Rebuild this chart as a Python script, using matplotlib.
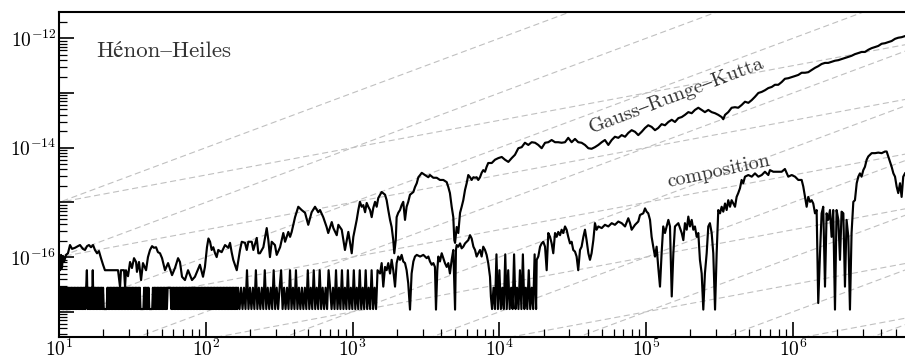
import numpy as np
import matplotlib
matplotlib.use("Agg")
import matplotlib.pyplot as plt
from matplotlib.ticker import FixedLocator, FuncFormatter, LogLocator, NullFormatter

plt.rcParams['mathtext.fontset'] = 'cm'
plt.rcParams['path.simplify'] = False
TEXT_FONT = ['cmr10', 'STIXGeneral', 'DejaVu Serif']
TEXT_COLOR = '#333333'

# ---------------------------------------------------------------------------
# Energy error of the Henon-Heiles integration, stored as log10 values
# ---------------------------------------------------------------------------

# Gauss-Runge-Kutta: log10(t), log10(error)
grk_logt = [
    1.000, 1.007, 1.014, 1.020, 1.027, 1.034, 1.048, 1.061, 1.075, 1.089,
    1.109, 1.129, 1.143, 1.163, 1.177, 1.191, 1.204, 1.218, 1.232, 1.245,
    1.259, 1.272, 1.286, 1.300, 1.313, 1.347, 1.375, 1.402, 1.416, 1.422,
    1.443, 1.450, 1.456, 1.470, 1.484, 1.497, 1.511, 1.525, 1.531, 1.545,
    1.559, 1.572, 1.593, 1.606, 1.620, 1.634, 1.647, 1.661, 1.674, 1.688,
    1.702, 1.722, 1.743, 1.770, 1.790, 1.811, 1.824, 1.838, 1.858, 1.879,
    1.906, 1.926, 1.960, 1.981, 1.994, 2.008, 2.018, 2.029, 2.040, 2.051,
    2.063, 2.074, 2.085, 2.108, 2.131, 2.153, 2.165, 2.176, 2.187, 2.211,
    2.233, 2.245, 2.267, 2.279, 2.290, 2.313, 2.324, 2.347, 2.358, 2.369,
    2.392, 2.415, 2.426, 2.437, 2.449, 2.471, 2.483, 2.506, 2.528, 2.540,
    2.562, 2.574, 2.585, 2.608, 2.630, 2.653, 2.676, 2.698, 2.721, 2.744,
    2.766, 2.778, 2.800, 2.823, 2.834, 2.858, 2.869, 2.892, 2.903, 2.926,
    2.948, 2.971, 2.994, 3.005, 3.028, 3.039, 3.050, 3.062, 3.073, 3.085,
    3.096, 3.107, 3.119, 3.130, 3.141, 3.153, 3.164, 3.175, 3.198, 3.221,
    3.232, 3.243, 3.255, 3.266, 3.277, 3.284, 3.294, 3.300, 3.311, 3.323,
    3.334, 3.345, 3.357, 3.368, 3.379, 3.391, 3.414, 3.425, 3.437, 3.448,
    3.460, 3.471, 3.493, 3.516, 3.527, 3.550, 3.573, 3.595, 3.618, 3.641,
    3.652, 3.663, 3.675, 3.686, 3.693, 3.698, 3.709, 3.720, 3.732, 3.743,
    3.754, 3.766, 3.777, 3.788, 3.800, 3.811, 3.823, 3.834, 3.845, 3.856,
    3.868, 3.879, 3.890, 3.902, 3.913, 3.924, 3.948, 3.970, 3.993, 4.016,
    4.038, 4.061, 4.084, 4.106, 4.129, 4.152, 4.174, 4.197, 4.220, 4.243,
    4.265, 4.288, 4.311, 4.333, 4.356, 4.379, 4.401, 4.424, 4.447, 4.469,
    4.492, 4.515, 4.537, 4.560, 4.583, 4.606, 4.628, 4.651, 4.674, 4.697,
    4.719, 4.742, 4.765, 4.787, 4.810, 4.833, 4.856, 4.878, 4.901, 4.924,
    4.946, 4.969, 4.992, 5.014, 5.037, 5.060, 5.082, 5.105, 5.128, 5.151,
    5.174, 5.196, 5.219, 5.242, 5.264, 5.287, 5.310, 5.332, 5.355, 5.378,
    5.400, 5.423, 5.446, 5.469, 5.491, 5.514, 5.525, 5.537, 5.559, 5.582,
    5.605, 5.627, 5.650, 5.673, 5.696, 5.719, 5.741, 5.764, 5.787, 5.809,
    5.832, 5.855, 5.877, 5.900, 5.923, 5.945, 5.968, 5.991, 6.014, 6.036,
    6.059, 6.082, 6.104, 6.127, 6.150, 6.172, 6.195, 6.218, 6.240, 6.263,
    6.286, 6.309, 6.331, 6.354, 6.377, 6.399, 6.422, 6.445, 6.467, 6.490,
    6.513, 6.536, 6.559, 6.581, 6.604, 6.627, 6.649, 6.672, 6.695, 6.717,
    6.740, 6.763,
]
grk_logerr = [
    -16.02, -16.24, -15.96, -16.20, -15.98, -16.09, -15.96, -15.93, -15.78, -15.85,
    -15.83, -15.80, -15.78, -15.85, -15.87, -15.80, -15.78, -15.82, -15.78, -15.87,
    -15.93, -15.89, -16.02, -16.14, -16.24, -16.24, -16.24, -16.24, -16.55, -16.24,
    -16.24, -16.55, -16.24, -16.35, -16.09, -16.20, -16.02, -16.09, -16.27, -16.09,
    -16.42, -16.11, -16.24, -16.00, -15.87, -15.80, -15.83, -15.82, -15.91, -15.93,
    -16.02, -16.24, -16.11, -16.33, -16.20, -16.02, -16.09, -16.36, -16.42, -16.24,
    -16.42, -16.36, -16.14, -16.36, -16.18, -15.82, -15.66, -15.72, -15.87, -15.82,
    -15.93, -16.00, -15.87, -15.91, -15.78, -15.83, -15.74, -15.91, -16.05, -16.24,
    -15.87, -15.72, -15.74, -15.87, -15.72, -15.72, -15.87, -15.65, -15.93, -15.93,
    -15.82, -15.47, -15.69, -16.00, -15.72, -15.78, -15.96, -15.82, -15.56, -15.72,
    -15.54, -15.63, -15.54, -15.27, -15.08, -15.14, -15.19, -15.41, -15.18, -15.08,
    -15.18, -15.14, -15.27, -15.45, -15.56, -15.36, -15.47, -15.60, -15.41, -15.50,
    -15.87, -15.54, -15.93, -15.63, -15.32, -15.14, -14.99, -15.08, -15.05, -15.18,
    -15.01, -15.08, -15.14, -15.27, -15.10, -14.99, -15.08, -14.92, -14.81, -14.86,
    -14.96, -15.14, -15.32, -15.45, -15.69, -15.93, -15.69, -15.27, -15.19, -15.14,
    -15.05, -14.99, -15.32, -15.08, -14.99, -14.86, -14.81, -14.72, -14.65, -14.54,
    -14.50, -14.46, -14.50, -14.54, -14.50, -14.55, -14.55, -14.59, -14.59, -14.63,
    -14.72, -14.83, -15.08, -15.27, -15.69, -15.74, -15.45, -15.56, -15.19, -15.08,
    -14.96, -14.77, -14.65, -14.50, -14.54, -14.59, -14.54, -14.55, -14.54, -14.59,
    -14.54, -14.46, -14.41, -14.44, -14.35, -14.28, -14.28, -14.22, -14.19, -14.17,
    -14.22, -14.26, -14.19, -14.13, -14.01, -13.99, -13.91, -13.95, -13.90, -13.91,
    -13.95, -14.01, -13.91, -13.90, -13.86, -13.90, -13.90, -13.91, -13.90, -13.82,
    -13.90, -13.84, -13.90, -13.91, -13.95, -14.01, -14.02, -13.99, -13.95, -13.90,
    -13.86, -13.95, -13.86, -13.80, -13.82, -13.77, -13.80, -13.73, -13.68, -13.71,
    -13.77, -13.71, -13.64, -13.59, -13.62, -13.68, -13.64, -13.57, -13.59, -13.53,
    -13.49, -13.53, -13.46, -13.44, -13.40, -13.35, -13.37, -13.31, -13.27, -13.31,
    -13.35, -13.31, -13.35, -13.37, -13.40, -13.44, -13.48, -13.40, -13.35, -13.27,
    -13.26, -13.27, -13.22, -13.16, -13.18, -13.13, -13.07, -13.00, -12.98, -12.95,
    -12.91, -12.89, -12.85, -12.85, -12.80, -12.74, -12.73, -12.71, -12.69, -12.67,
    -12.63, -12.63, -12.62, -12.58, -12.54, -12.51, -12.47, -12.45, -12.45, -12.43,
    -12.41, -12.40, -12.38, -12.36, -12.34, -12.32, -12.29, -12.27, -12.25, -12.25,
    -12.21, -12.18, -12.16, -12.14, -12.10, -12.09, -12.07, -12.05, -12.01, -11.99,
    -11.98, -11.96,
]

# Composition method.  While the error sits at round-off level it jumps
# between a few discrete values; those stretches are stored as level codes
# (index into roundoff_levels), one code per output time.
roundoff_levels = [-16.95, -16.56, -16.24, -15.95]

comp_band_a_span = (1.00, 2.22)
comp_band_a = ("0101010101" "0101010101" "0101010101" "0101010120"
               "1010102010" "1010101010" "1000001010" "1010101010"
               "1010101010" "1010101010" "1010101010" "1000001010"
               "1010000010" "1010101010" "1010101011" "1110101010"
               "1010101010" "1010101010" "1010101010" "1010101010"
               "1010101010" "1010101010" "1010101010" "1010101010"
               "10101")
comp_band_b_span = (2.23, 3.17)
comp_band_b = ("0101020101" "0201010201" "0102010120" "1010201020"
               "1010102010" "2010201010" "2101020102" "0102010201"
               "0201020102" "0102")

comp_mid_logt = [
    3.187, 3.198, 3.209, 3.221, 3.232, 3.243, 3.255, 3.266, 3.277, 3.289,
    3.300, 3.311, 3.323, 3.334, 3.345, 3.357, 3.368, 3.379, 3.391, 3.402,
    3.414, 3.425, 3.437, 3.460, 3.482, 3.505, 3.516, 3.527, 3.539, 3.550,
    3.561, 3.568, 3.577, 3.584, 3.595, 3.607, 3.618, 3.629, 3.641, 3.652,
    3.663, 3.675, 3.686, 3.698, 3.704, 3.709, 3.720, 3.732, 3.743, 3.754,
    3.766, 3.788, 3.800, 3.811, 3.823, 3.834, 3.845, 3.856, 3.868, 3.879,
    3.890, 3.902, 3.913, 3.924, 3.936, 3.942,
]
comp_mid_logerr = [
    -16.30, -16.11, -16.54, -16.18, -16.24, -16.11, -16.30, -16.05, -16.24, -16.54,
    -16.11, -15.99, -16.05, -15.96, -16.08, -16.11, -16.24, -16.48, -16.96, -16.30,
    -16.08, -15.99, -15.96, -15.99, -15.96, -16.02, -15.99, -16.08, -16.14, -16.11,
    -16.18, -16.96, -16.24, -15.99, -16.08, -15.93, -16.02, -16.11, -16.18, -16.11,
    -16.30, -16.05, -15.87, -16.96, -15.87, -15.78, -15.81, -15.75, -15.84, -15.81,
    -15.75, -15.69, -15.60, -15.66, -15.81, -15.87, -15.99, -15.93, -15.87, -15.99,
    -15.81, -15.87, -15.96, -16.11, -16.36, -16.72,
]

comp_band_c_span = (3.95, 4.25)
comp_band_c = "0103020103" "0201030102" "0301020103" "0"

comp_late_logt = [
    4.254, 4.265, 4.277, 4.288, 4.299, 4.311, 4.322, 4.333, 4.345, 4.356,
    4.367, 4.379, 4.390, 4.401, 4.413, 4.424, 4.435, 4.447, 4.458, 4.469,
    4.481, 4.492, 4.503, 4.515, 4.526, 4.537, 4.549, 4.560, 4.572, 4.583,
    4.594, 4.606, 4.617, 4.628, 4.640, 4.651, 4.662, 4.674, 4.697, 4.719,
    4.742, 4.765, 4.787, 4.810, 4.833, 4.856, 4.878, 4.890, 4.901, 4.924,
    4.946, 4.958, 4.980, 4.992, 5.003, 5.014, 5.026, 5.037, 5.048, 5.060,
    5.071, 5.082, 5.094, 5.105, 5.116, 5.128, 5.151, 5.162, 5.174, 5.185,
    5.196, 5.219, 5.242, 5.253, 5.264, 5.276, 5.287, 5.298, 5.310, 5.321,
    5.332, 5.344, 5.355, 5.366, 5.378, 5.389, 5.400, 5.412, 5.423, 5.434,
    5.446, 5.457, 5.469, 5.480, 5.491, 5.503, 5.514, 5.525, 5.537, 5.548,
    5.559, 5.571, 5.582, 5.605, 5.616, 5.627, 5.639, 5.650, 5.661, 5.673,
    5.696, 5.719, 5.741, 5.764, 5.787, 5.809, 5.832, 5.843, 5.866, 5.877,
    5.900, 5.923, 5.945, 5.968, 5.991, 6.014, 6.036, 6.059, 6.070, 6.082,
    6.093, 6.104, 6.116, 6.127, 6.138, 6.150, 6.161, 6.172, 6.184, 6.195,
    6.206, 6.218, 6.229, 6.240, 6.252, 6.263, 6.274, 6.286, 6.297, 6.309,
    6.320, 6.331, 6.343, 6.354, 6.365, 6.377, 6.388, 6.399, 6.411, 6.422,
    6.434, 6.445, 6.456, 6.467, 6.479, 6.490, 6.502, 6.513, 6.536, 6.559,
    6.581, 6.604, 6.627, 6.638, 6.649, 6.672, 6.684, 6.695, 6.706, 6.717,
    6.729, 6.740, 6.751, 6.763,
]
comp_late_logerr = [
    -16.05, -15.99, -15.81, -15.75, -15.72, -15.81, -16.24, -15.56, -15.63, -15.75,
    -15.93, -15.56, -15.63, -15.54, -15.60, -15.50, -15.56, -15.44, -15.50, -15.63,
    -15.75, -15.72, -15.87, -15.90, -15.99, -16.24, -15.87, -15.81, -15.63, -15.50,
    -15.69, -15.93, -16.05, -15.93, -15.69, -15.38, -15.50, -15.44, -15.47, -15.41,
    -15.44, -15.38, -15.41, -15.35, -15.38, -15.44, -15.29, -15.38, -15.50, -15.41,
    -15.35, -15.23, -15.20, -15.11, -15.17, -15.20, -15.32, -15.63, -15.81, -15.99,
    -15.81, -16.18, -16.54, -15.93, -15.44, -15.56, -15.32, -15.44, -16.72, -15.93,
    -15.44, -15.38, -15.56, -15.69, -15.38, -15.50, -15.26, -15.44, -15.32, -15.50,
    -15.44, -15.63, -15.56, -16.05, -16.30, -16.96, -16.30, -15.93, -15.44, -15.38,
    -15.56, -15.93, -16.96, -15.93, -15.14, -15.20, -15.08, -15.17, -15.02, -15.14,
    -14.96, -15.08, -14.96, -15.08, -14.90, -14.83, -14.74, -14.59, -14.65, -14.53,
    -14.50, -14.53, -14.47, -14.53, -14.50, -14.44, -14.50, -14.41, -14.44, -14.44,
    -14.44, -14.44, -14.39, -14.53, -14.50, -14.53, -14.59, -14.59, -14.71, -14.90,
    -15.08, -14.90, -14.99, -14.96, -15.02, -15.20, -15.14, -16.84, -15.93, -15.20,
    -15.08, -16.54, -15.20, -15.32, -15.14, -15.63, -15.14, -16.96, -15.14, -15.32,
    -16.05, -15.17, -15.20, -16.54, -15.32, -15.63, -16.96, -15.56, -14.99, -14.96,
    -14.65, -14.53, -14.47, -14.53, -14.41, -14.35, -14.22, -14.16, -14.10, -14.10,
    -14.09, -14.10, -14.07, -14.07, -14.16, -14.35, -14.47, -14.53, -14.71, -14.83,
    -14.65, -14.90, -14.53, -14.47,
]

# Guide lines err = C t and err = C sqrt(t), given by log10(C)
linear_guide_logc = [-16, -17, -18, -19, -20, -21, -22, -23, -24]
sqrt_guide_logc = [-15.5, -16.5, -17.5, -18.5, -19.5, -20.5]

x_tick_exponents = [1, 2, 3, 4, 5, 6]
y_tick_exponents = [-17, -16, -15, -14, -13, -12]
y_labelled_exponents = [-16, -14, -12]

x_limits_log = (1.0, 6.763)
y_limits_log = (-17.461, -11.525)


def roundoff(codes):
    return [roundoff_levels[int(c)] for c in codes]


comp_logt = np.concatenate([
    np.linspace(*comp_band_a_span, len(comp_band_a)),
    np.linspace(*comp_band_b_span, len(comp_band_b)),
    comp_mid_logt,
    np.linspace(*comp_band_c_span, len(comp_band_c)),
    comp_late_logt,
])
comp_logerr = np.concatenate([
    roundoff(comp_band_a),
    roundoff(comp_band_b),
    comp_mid_logerr,
    roundoff(comp_band_c),
    comp_late_logerr,
])

assert len(grk_logt) == len(grk_logerr)
assert len(comp_logt) == len(comp_logerr)

# ---------------------------------------------------------------------------
fig = plt.figure(figsize=(9.05, 3.61), dpi=100)
ax = fig.add_axes([59 / 905, 24 / 361, 846 / 905, 324.7 / 361])
ax.set_xscale('log')
ax.set_yscale('log')

t_guide = 10.0 ** np.array([0.5, 7.5])
guide_style = dict(color='#c0c0c0', lw=0.8, dashes=(5.5, 3.2), zorder=1)
for c in linear_guide_logc:
    ax.plot(t_guide, 10.0 ** c * t_guide, **guide_style)
for c in sqrt_guide_logc:
    ax.plot(t_guide, 10.0 ** c * np.sqrt(t_guide), **guide_style)

line_style = dict(color='black', lw=1.55, solid_joinstyle='round', zorder=3)
ax.plot(10.0 ** np.asarray(grk_logt), 10.0 ** np.asarray(grk_logerr), **line_style)
ax.plot(10.0 ** comp_logt, 10.0 ** comp_logerr, **line_style)

ax.set_xlim(10.0 ** x_limits_log[0], 10.0 ** x_limits_log[1])
ax.set_ylim(10.0 ** y_limits_log[0], 10.0 ** y_limits_log[1])

# Ticks: inward, bottom and left only
ax.xaxis.set_major_locator(FixedLocator([10.0 ** e for e in x_tick_exponents]))
ax.xaxis.set_major_formatter(
    FuncFormatter(lambda v, p: r'$10^{%d}$' % int(round(np.log10(v)))))
ax.yaxis.set_major_locator(FixedLocator([10.0 ** e for e in y_tick_exponents]))
ax.yaxis.set_major_formatter(
    FuncFormatter(lambda v, p: (r'$10^{%d}$' % int(round(np.log10(v))))
                  if int(round(np.log10(v))) in y_labelled_exponents else ''))
for axis in (ax.xaxis, ax.yaxis):
    axis.set_minor_locator(LogLocator(base=10, subs=np.arange(2, 10), numticks=60))
    axis.set_minor_formatter(NullFormatter())

ax.tick_params(which='both', direction='in', top=False, right=False,
               labelsize=14, color='black')
ax.tick_params(which='major', length=11, width=1.2)
ax.tick_params(which='minor', length=5.5, width=0.9)
ax.tick_params(axis='x', which='major', pad=1.5)
ax.tick_params(axis='y', which='major', pad=2)

for side in ('left', 'bottom', 'top'):
    ax.spines[side].set_linewidth(1.5)
ax.spines['right'].set_visible(False)

# Labels
ax.text(0.044, 0.862, 'Hénon\u2013Heiles', transform=ax.transAxes,
        family=TEXT_FONT, fontsize=16.5, color=TEXT_COLOR,
        ha='left', va='baseline', zorder=4)
ax.text(10.0 ** 4.624, 10.0 ** -13.73, 'Gauss\u2013Runge\u2013Kutta',
        family=TEXT_FONT, fontsize=14.8, color=TEXT_COLOR, rotation=20.8,
        rotation_mode='anchor', ha='left', va='baseline', zorder=4)
ax.text(10.0 ** 5.149, 10.0 ** -14.72, 'composition',
        family=TEXT_FONT, fontsize=14.5, color=TEXT_COLOR, rotation=12.0,
        rotation_mode='anchor', ha='left', va='baseline', zorder=4)

fig.savefig('out.png', dpi=100)
